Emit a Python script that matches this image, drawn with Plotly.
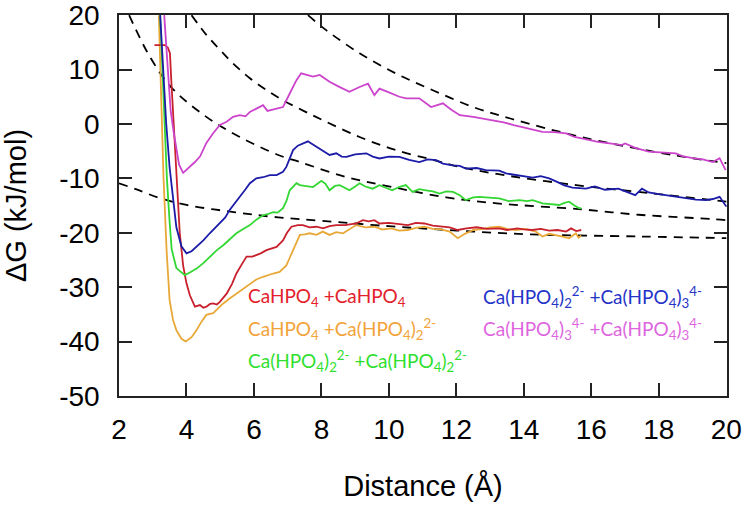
import plotly.graph_objects as go

# ---- data ----
mag_x = [3.34,3.45,3.53,3.62,3.71,3.78,3.90,4.10,4.25,4.40,4.59,4.79,4.99,5.19,5.38,5.58,5.75,5.88,6.07,6.27,6.40,6.47,6.67,6.86,7.06,7.26,7.40,7.55,7.75,7.95,8.24,8.5,8.83,9.13,9.38,9.57,9.72,10.0,10.31,10.51,10.9,11.25,11.6,11.85,12.1,12.5,12.8,13.1,13.4,13.7,14.1,14.55,14.9,15.25,15.5,15.75,16.2,16.6,16.9,17.0,17.3,17.7,18.1,18.5,18.7,19.0,19.3,19.6,19.8,19.98]
mag_y = [20,10,2.5,-1.5,-4.8,-7.5,-9.0,-7.9,-7.0,-6.0,-3.5,-1.7,-0.2,0.4,1.3,1.6,1.4,2.2,2.85,3.45,2.4,2.5,2.7,3.1,5.6,8.05,9.3,9.1,8.7,9.0,7.75,6.9,5.9,6.8,7.4,5.3,6.5,5.8,5.0,4.7,4.7,3.1,3.8,2.6,1.6,1.3,1.0,0.7,0.3,-0.2,-0.8,-1.45,-1.5,-1.75,-2.4,-2.7,-3.3,-3.6,-3.9,-3.6,-4.4,-5.1,-5.2,-5.4,-5.9,-6.3,-6.5,-7.0,-6.3,-8.5]

blue_x = [3.22,3.30,3.40,3.50,3.60,3.70,3.85,4.0,4.15,4.30,4.50,4.69,4.99,5.15,5.28,5.45,5.58,5.75,5.88,6.07,6.27,6.47,6.67,6.86,6.96,7.16,7.30,7.45,7.60,7.70,7.85,8.05,8.24,8.44,8.60,8.74,9.0,9.33,9.52,9.72,10.0,10.31,10.6,10.9,11.15,11.4,11.6,11.89,12.1,12.28,12.6,12.87,13.1,13.27,13.47,13.76,14.1,14.26,14.5,14.75,15.0,15.2,15.44,15.84,16.1,16.4,16.8,17.0,17.3,17.5,17.7,18.0,18.4,18.8,19.1,19.4,19.6,19.8,20.0]
blue_y = [20,10,0,-8,-14,-19,-22.5,-23.8,-23.4,-22.6,-21.4,-20.1,-18.3,-17.2,-15.8,-14.5,-13.4,-12.0,-10.9,-10.0,-9.8,-9.4,-9.4,-8.8,-7.9,-4.8,-4.0,-3.6,-3.2,-3.6,-4.2,-5.0,-5.7,-5.4,-6.0,-6.05,-5.6,-5.4,-6.0,-6.35,-6.0,-6.05,-6.6,-7.0,-6.5,-6.65,-7.3,-7.6,-7.7,-8.2,-8.1,-8.5,-8.5,-8.6,-9.1,-9.4,-9.7,-9.85,-9.6,-10.0,-10.7,-11.3,-11.7,-11.9,-11.5,-12.1,-11.9,-12.4,-13.1,-11.9,-12.6,-12.9,-13.3,-13.7,-13.9,-14.0,-13.8,-13.4,-15.2]

green_x = [3.22,3.28,3.35,3.42,3.50,3.56,3.70,3.95,4.10,4.30,4.50,4.69,4.90,5.09,5.28,5.48,5.68,5.88,6.07,6.27,6.40,6.57,6.70,6.86,6.96,7.06,7.26,7.36,7.50,7.75,8.0,8.12,8.24,8.40,8.54,8.70,8.83,9.0,9.13,9.30,9.52,9.72,9.90,10.1,10.3,10.5,10.7,10.9,11.1,11.3,11.5,11.7,11.9,12.1,12.28,12.5,12.68,13.0,13.27,13.55,13.86,14.1,14.26,14.55,14.8,15.05,15.2,15.34,15.5,15.64,15.7]
green_y = [20,10,0,-10,-18,-23,-26.5,-27.8,-27.3,-26.6,-25.6,-24.4,-23.2,-22.3,-21.2,-20.1,-19.3,-18.6,-17.6,-16.8,-16.6,-16.2,-16.3,-15.5,-14.2,-12.2,-10.9,-11.25,-11.4,-11.6,-10.45,-11.0,-12.2,-11.4,-11.25,-11.8,-12.2,-11.5,-10.9,-11.5,-11.9,-11.25,-11.7,-12.2,-11.6,-11.25,-12.5,-12.0,-12.2,-12.4,-12.8,-12.4,-12.5,-13.1,-14.0,-13.5,-13.4,-13.6,-13.7,-14.2,-14.0,-14.2,-14.0,-14.6,-14.7,-14.9,-14.5,-14.3,-15.0,-15.5,-15.5]

red_x = [3.05,3.36,3.45,3.51,3.55,3.62,3.70,3.80,3.90,4.0,4.10,4.25,4.40,4.50,4.59,4.70,4.79,4.90,4.99,5.19,5.35,5.48,5.62,5.78,5.95,6.07,6.20,6.37,6.50,6.67,6.86,6.98,7.11,7.30,7.45,7.65,7.85,8.05,8.24,8.44,8.70,9.03,9.23,9.40,9.57,9.72,10.0,10.30,10.56,10.8,11.05,11.3,11.55,11.8,12.04,12.3,12.6,12.9,13.27,13.5,13.8,14.0,14.25,14.5,14.75,15.0,15.25,15.4,15.55,15.7]
red_y = [14.5,14.5,14.0,13,8,0,-10,-20,-26,-29.3,-31.5,-33.6,-33.3,-33.8,-33.6,-33.1,-33.0,-33.2,-32.7,-31.2,-29.4,-27.5,-26.0,-24.4,-24.4,-24.1,-23.8,-23.2,-23.0,-22.6,-21.4,-20.0,-18.9,-18.6,-18.6,-19.0,-18.9,-19.2,-18.8,-18.6,-18.6,-18.3,-17.7,-17.9,-17.7,-18.3,-18.2,-18.4,-18.6,-18.2,-18.3,-18.7,-18.9,-19.0,-19.5,-19.2,-19.0,-19.3,-19.2,-19.5,-19.2,-19.4,-19.5,-19.3,-19.6,-19.5,-19.8,-19.2,-19.7,-19.5]

orange_x = [3.18,3.25,3.32,3.41,3.50,3.60,3.70,3.85,3.98,4.15,4.30,4.45,4.59,4.79,4.95,5.09,5.28,5.48,5.68,5.88,6.07,6.27,6.45,6.57,6.76,6.96,7.06,7.16,7.26,7.36,7.50,7.65,7.85,8.04,8.24,8.44,8.64,8.83,9.03,9.3,9.57,9.8,10.07,10.3,10.56,10.8,11.05,11.3,11.55,11.8,12.04,12.25,12.5,12.8,13.0,13.27,13.5,13.76,14.05,14.35,14.55,14.75,14.95,15.15,15.34,15.54,15.62,15.7]
orange_y = [20,5,-10,-23.2,-32.4,-36,-37.9,-39.5,-40.0,-39.2,-37.9,-36.3,-35.1,-34.8,-33.8,-33.0,-32.1,-31.2,-30.2,-29.3,-28.6,-28.1,-27.7,-27.5,-27.2,-26.0,-24.6,-23.2,-21.7,-20.4,-20.3,-20.1,-20.4,-19.8,-20.4,-19.9,-20.1,-19.4,-18.6,-19.0,-18.9,-19.4,-19.2,-19.6,-19.5,-19.1,-18.9,-19.3,-19.4,-19.8,-21.0,-20.2,-19.5,-19.3,-19.0,-18.9,-19.3,-19.5,-19.3,-19.8,-20.7,-20.2,-20.4,-20.7,-21.0,-20.1,-20.9,-20.5]

# dashed reference curves
d1_x = [7.6,8.15,9.13,10.2,11.3,12.5,13.6,15.7,18.4,20.0]
d1_y = [20,17.2,13.0,9.3,6.2,3.1,1.0,-2.4,-5.7,-7.2]
d2_x = [4.15,4.6,5.0,5.37,5.88,6.38,6.85,7.44,8.04,9.13,10.2,11.3,12.1,13.2,15.55,17.7,20.0]
d2_y = [20,16.3,13.6,11.2,8.4,6.2,4.4,2.5,0.7,-2.4,-4.8,-6.6,-7.9,-9.2,-11.25,-12.7,-14.3]
d3_x = [2.3,2.92,3.57,4.6,5.58,6.76,7.36,8.75,10.1,11.7,13.2,15.7,17.4,19.6,20.0]
d3_y = [20,12.3,6.6,1.25,-2.4,-5.8,-7.0,-9.8,-11.6,-13.5,-14.6,-15.7,-16.7,-17.5,-17.7]
d4_x = [2.0,2.5,3.2,4.0,5.4,6.6,8.0,10.0,12.0,14.2,17.5,20.0]
d4_y = [-10.9,-12.0,-13.6,-14.9,-16.2,-17.1,-17.8,-18.8,-19.6,-20.3,-20.7,-21.0]

x_ticks = [2,4,6,8,10,12,14,16,18,20]
y_ticks = [20,10,0,-10,-20,-30,-40,-50]

labels = [
    ("CaHPO<sub>4</sub> +CaHPO<sub>4</sub>", "#e3202c", 5.76, -31.9),
    ("CaHPO<sub>4</sub> +Ca(HPO<sub>4</sub>)<sub>2</sub><sup>2-</sup>", "#f2a33a", 5.76, -37.7),
    ("Ca(HPO<sub>4</sub>)<sub>2</sub><sup>2-</sup> +Ca(HPO<sub>4</sub>)<sub>2</sub><sup>2-</sup>", "#2fe02f", 5.76, -43.6),
    ("Ca(HPO<sub>4</sub>)<sub>2</sub><sup>2-</sup> +Ca(HPO<sub>4</sub>)<sub>3</sub><sup>4-</sup>", "#2433c8", 12.74, -31.9),
    ("Ca(HPO<sub>4</sub>)<sub>3</sub><sup>4-</sup> +Ca(HPO<sub>4</sub>)<sub>3</sub><sup>4-</sup>", "#dd66e0", 12.74, -37.7),
]

fig = go.Figure()

for dx, dy in [(d1_x, d1_y), (d2_x, d2_y), (d3_x, d3_y), (d4_x, d4_y)]:
    fig.add_trace(go.Scatter(x=dx, y=dy, mode="lines",
                             line=dict(color="black", width=1.8, dash="9px,7px", shape="spline", smoothing=1.0),
                             showlegend=False, hoverinfo="skip"))

series = [
    (orange_x, orange_y, "#e8a838"),
    (red_x, red_y, "#c8202c"),
    (green_x, green_y, "#33d633"),
    (blue_x, blue_y, "#1c1ca8"),
    (mag_x, mag_y, "#cc44cc"),
]
for sx, sy, c in series:
    fig.add_trace(go.Scatter(x=sx, y=sy, mode="lines", line=dict(color=c, width=1.8),
                             showlegend=False))

for txt, c, lx, ly in labels:
    fig.add_annotation(x=lx, y=ly, xref="x", yref="y", text=txt, showarrow=False,
                       xanchor="left", yanchor="middle",
                       font=dict(family="Lato", size=19, color=c))

axis_common = dict(showline=True, linecolor="#222", linewidth=1.6, mirror="ticks",
                   ticks="inside", ticklen=13, tickwidth=1.8, tickcolor="#222",
                   showgrid=False, zeroline=False, automargin=False,
                   ticklabeloverflow="allow",
                   tickfont=dict(family="Liberation Sans", size=28, color="black"))

fig.update_xaxes(range=[2, 20.02], tickvals=x_ticks, ticktext=[str(v) for v in x_ticks],
                 ticklabelstandoff=8,
                 title=dict(text="Distance (Å)", font=dict(family="Liberation Sans", size=29, color="black"), standoff=31),
                 **axis_common)
fig.update_yaxes(range=[-50.02, 20.03], tickvals=y_ticks, ticktext=[str(v) for v in y_ticks],
                 ticklabelstandoff=12,
                 title=dict(text="ΔG (kJ/mol)", font=dict(family="Liberation Sans", size=29, color="black"), standoff=24),
                 **axis_common)

fig.update_layout(width=750, height=506, margin=dict(l=119, r=23, t=15, b=110),
                  plot_bgcolor="white", paper_bgcolor="white", template="none")

fig.write_html("out.html", config={"displayModeBar": False},
               post_script="document.body.style.margin='0';document.body.style.padding='0';")
